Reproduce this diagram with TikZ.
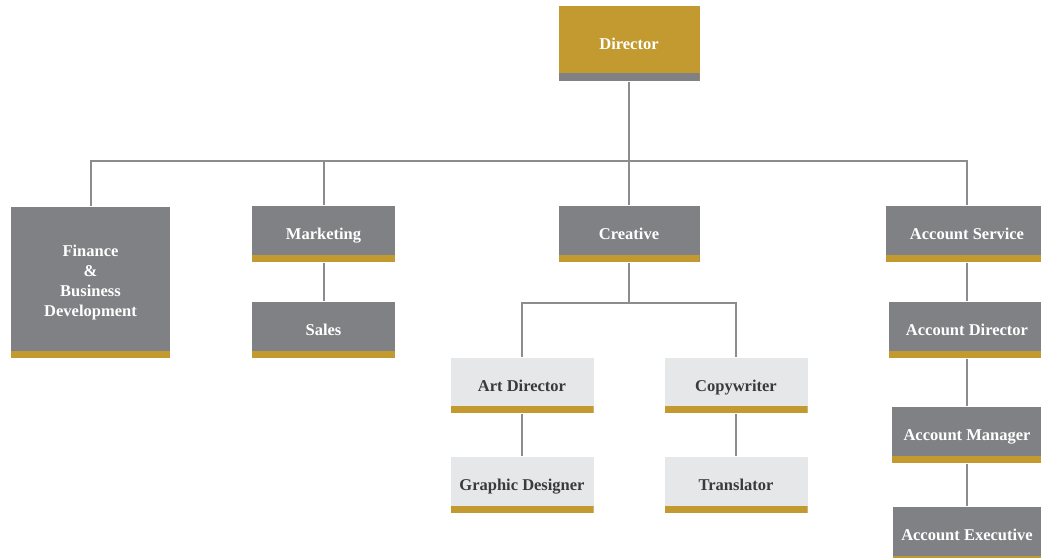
\documentclass[tikz,border=0pt]{standalone}
\usepackage{fontspec}
\setmainfont{Liberation Serif}
\usepackage{tikz}
\definecolor{boxgray}{RGB}{128,129,133}
\definecolor{boxgold}{RGB}{194,154,48}
\definecolor{boxlight}{RGB}{230,231,233}
\definecolor{linegray}{RGB}{140,140,142}
\definecolor{textdark}{RGB}{58,58,60}
\tikzset{
    unit/.style={rectangle, fill=boxgray, text=white, inner sep=2pt,
    	minimum width=143pt, minimum height=56pt, align=center,
    	font=\fontsize{16.5}{20}\selectfont\bfseries,
    	path picture={\fill[boxgold] (path picture bounding box.south west)
    	rectangle ([yshift=7pt]path picture bounding box.south east);}}
}
\tikzset{
    oneline/.style={unit, text height=13pt, text depth=2pt}
}
\tikzset{
    staff/.style={oneline, fill=boxlight, text=textdark}
}
\tikzset{
    head/.style={oneline, fill=boxgold,
    	path picture={\fill[boxgray] (path picture bounding box.south west)
    	rectangle ([yshift=8pt]path picture bounding box.south east);}}
}
\tikzset{
    every edge/.append style={line width=2pt, draw=linegray}
}

\begin{document}
\begin{tikzpicture}[x=1pt, y=-1pt, line width=2pt, draw=linegray]
	\useasboundingbox (0,0) rectangle (1041,557);
	\node (dir) [head, minimum width=141pt, minimum height=75pt] at (629,43.5) {Director};

	\node (fin) [unit, minimum width=159pt, minimum height=151pt] at (90.5,282.5) {Finance\\\&\\Business\\Development};
	\node (mkt) [oneline] at (323.5,234) {Marketing};
	\node (sales) [oneline] at (323.5,330) {Sales};
	\node (cre) [oneline, minimum width=141pt] at (629,234) {Creative};
	\node (acs) [oneline, minimum width=162pt] at (967,234) {Account Service};
	\node (acd) [oneline, minimum width=156pt] at (967,330) {Account Director};
	\node (acm) [oneline, minimum width=150pt] at (967,435) {Account Manager};
	\node (ace) [oneline, minimum width=148pt] at (967,535) {Account Executive};

	\node (art) [staff, minimum height=55pt] at (522,385.5) {Art Director};
	\node (copy) [staff, minimum height=55pt] at (736,385.5) {Copywriter};
	\node (gd) [staff] at (522,485) {Graphic Designer};
	\node (trans) [staff] at (736,485) {Translator};

	\coordinate (bus) at (629,161);
	\coordinate (sub) at (629,303);

	\draw (dir) edge (cre);
	\draw (fin.north) |- (bus) -| (acs.north);
	\draw (mkt.north) -- (mkt.north |- bus);
	\draw (art.north) |- (sub) -| (copy.north);
	\draw (cre.south) -- (sub);
	\draw (mkt) edge (sales);
	\draw (art) edge (gd); \draw (copy) edge (trans);
	\draw (acs) edge (acd); \draw (acd) edge (acm);
	\draw (acm) edge (ace);
\end{tikzpicture}
\end{document}
